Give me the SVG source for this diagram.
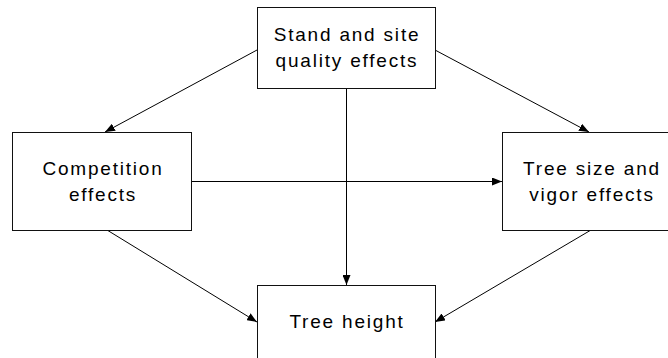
<svg xmlns="http://www.w3.org/2000/svg" width="668" height="358" viewBox="0 0 668 358">
  <style>
    .box { fill: #fff; stroke: #111; stroke-width: 1; }
    .lbl { font-family: "Liberation Sans", Arial, sans-serif; font-size: 19px; letter-spacing: 1.8px; fill: #000; text-anchor: middle; }
    .edge { stroke: #000; stroke-width: 1; fill: none; marker-end: url(#arrow); }
  </style>
  <defs>
    <marker id="arrow" viewBox="0 0 10 8" refX="10" refY="4" markerWidth="10" markerHeight="8" markerUnits="userSpaceOnUse" orient="auto">
      <path d="M0,0 L10,4 L0,8 Z" fill="#000"/>
    </marker>
  </defs>
  <rect width="668" height="358" fill="#fff"/>

  <g id="connectors">
    <line class="edge" x1="257" y1="50" x2="105" y2="132"/>
    <line class="edge" x1="435" y1="50" x2="589" y2="132"/>
    <line class="edge" x1="346.5" y1="88" x2="346.5" y2="285"/>
    <line class="edge" x1="191" y1="181.5" x2="502" y2="181.5"/>
    <line class="edge" x1="107" y1="230" x2="257" y2="322"/>
    <line class="edge" x1="591" y1="230" x2="435" y2="322"/>
  </g>

  <g id="stand-site">
    <rect class="box" x="257.5" y="7.5" width="178" height="81"/>
    <text class="lbl" x="347" y="41">Stand and site</text>
    <text class="lbl" x="347" y="67">quality effects</text>
  </g>

  <g id="competition">
    <rect class="box" x="12.5" y="132.5" width="179" height="98"/>
    <text class="lbl" x="103" y="175">Competition</text>
    <text class="lbl" x="103" y="201">effects</text>
  </g>

  <g id="tree-size">
    <rect class="box" x="502.5" y="132.5" width="179" height="98"/>
    <text class="lbl" x="592" y="175">Tree size and</text>
    <text class="lbl" x="592" y="201">vigor effects</text>
  </g>

  <g id="tree-height">
    <rect class="box" x="257.5" y="285.5" width="178" height="98"/>
    <text class="lbl" x="347" y="328">Tree height</text>
  </g>
</svg>
